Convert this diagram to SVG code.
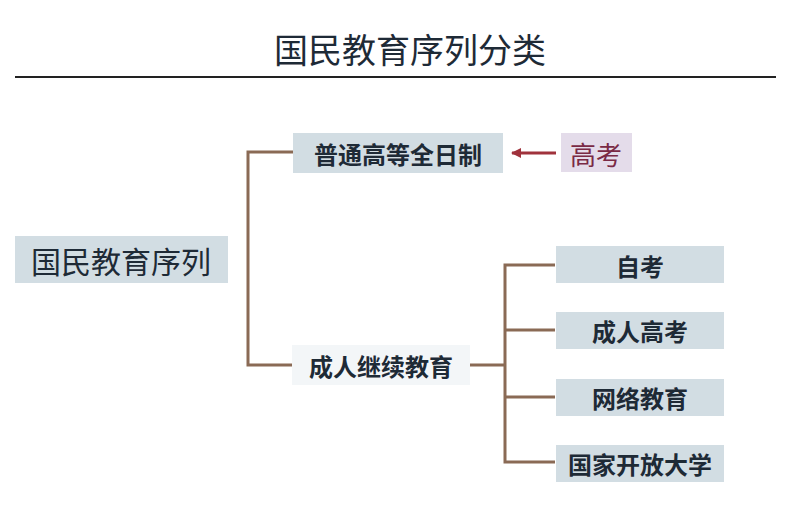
<svg xmlns="http://www.w3.org/2000/svg" width="798" height="520" viewBox="0 0 798 520">
<defs>
<marker id="ah" markerWidth="10" markerHeight="10" refX="9" refY="5" orient="auto" markerUnits="userSpaceOnUse"><path d="M0,0 L10,5 L0,10 z" fill="#a0323c"/></marker>
</defs>
<style>
text{font-family:"Noto Sans CJK SC","Liberation Sans",sans-serif;fill:#1e2a36;text-anchor:middle;dominant-baseline:central}
.box{fill:#d2dde3}
.b{font-weight:bold;font-size:24px}
.ln{fill:none;stroke:#8a6a55;stroke-width:3}
</style>
<rect width="798" height="520" fill="#fff"/>
<text x="410" y="48" font-size="34" fill="#222">国民教育序列分类</text>
<line x1="15" y1="77" x2="776" y2="77" stroke="#222" stroke-width="2"/>
<g id="connectors">
<path class="ln" d="M293,152 H248 V365 H292"/>
<path class="ln" d="M470,365 H505 M555,265 H505 V462 H555 M505,330 H555 M505,397 H555"/>
<line x1="556" y1="153" x2="512" y2="153" stroke="#a0323c" stroke-width="3" marker-end="url(#ah)"/>
</g>
<g id="root"><rect class="box" x="15" y="236" width="213" height="47" fill="#bfd1da"/><text x="121" y="260" font-size="30">国民教育序列</text></g>
<g id="full"><rect class="box" x="293" y="133" width="210" height="40"/><text class="b" x="398" y="153">普通高等全日制</text></g>
<g id="gaokao"><rect x="561" y="133" width="71" height="39" fill="#e4dcea"/><text x="596" y="153" font-size="26" style="fill:#7a2a45">高考</text></g>
<g id="adult"><rect x="292" y="345" width="178" height="40" fill="#f3f6f8"/><text class="b" x="381" y="365">成人继续教育</text></g>
<g id="zikao"><rect class="box" x="556" y="246" width="168" height="37"/><text class="b" x="640" y="265">自考</text></g>
<g id="crgk"><rect class="box" x="556" y="312" width="168" height="37"/><text class="b" x="640" y="330">成人高考</text></g>
<g id="wl"><rect class="box" x="556" y="379" width="168" height="37"/><text class="b" x="640" y="397">网络教育</text></g>
<g id="open"><rect class="box" x="556" y="445" width="168" height="37"/><text class="b" x="640" y="463">国家开放大学</text></g>
</svg>
